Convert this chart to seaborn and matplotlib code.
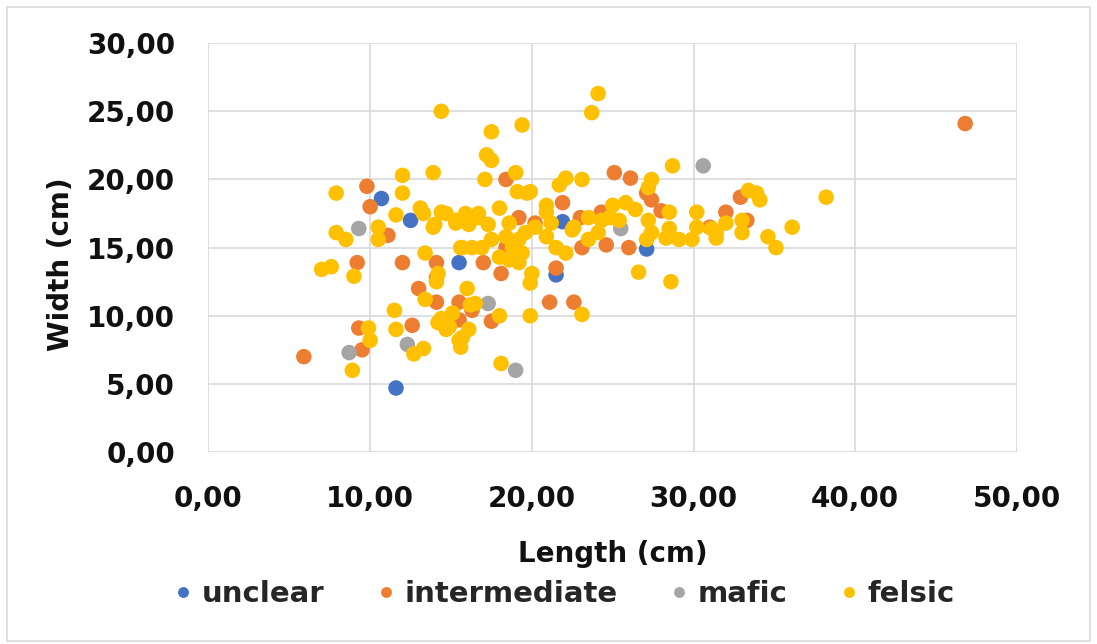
import matplotlib
matplotlib.use("Agg")
import matplotlib.pyplot as plt
import matplotlib.ticker as mticker
from matplotlib.patches import Rectangle
import pandas as pd
import seaborn as sns

# ── Data ─────────────────────────────────────────────────────────────────────
unclear_x = [10.7, 12.5, 15.5, 21.5, 11.6, 27.1, 21.9]
unclear_y = [18.6, 17.0, 13.9, 13.0, 4.7, 14.9, 16.9]

intermediate_x = [5.9, 9.8, 10.0, 11.1, 9.2, 12.0, 9.3, 9.5, 14.1, 17.0,
                  18.4, 18.1, 13.0, 14.1, 12.6, 14.1, 15.5, 16.3, 17.5, 21.5,
                  21.1, 22.6, 23.1, 24.6, 26.0, 25.1, 26.1, 27.1, 21.9, 23.0,
                  19.2, 32.0, 31.0, 28.0, 24.3, 32.9, 33.3, 27.4, 46.8, 18.4,
                  20.2, 15.5]
intermediate_y = [7.0, 19.5, 18.0, 15.9, 13.9, 13.9, 9.1, 7.5, 13.9, 13.9,
                  20.0, 13.1, 12.0, 12.8, 9.3, 11.0, 9.7, 10.4, 9.6, 13.5,
                  11.0, 11.0, 15.0, 15.2, 15.0, 20.5, 20.1, 19.0, 18.3, 17.2,
                  17.2, 17.6, 16.5, 17.7, 17.6, 18.7, 17.0, 18.5, 24.1, 15.0,
                  16.8, 11.0]

mafic_x = [9.3, 8.7, 17.3, 19.0, 12.3, 30.6, 25.5]
mafic_y = [16.4, 7.3, 10.9, 6.0, 7.9, 21.0, 16.4]

felsic_x = [14.4, 17.5, 19.4, 17.2, 17.5, 13.9, 12.0, 12.0, 17.1, 19.0,
            7.9, 11.6, 13.1, 13.3, 7.9, 8.5, 10.5, 10.5, 13.9, 14.7,
            15.3, 15.9, 16.7, 15.6, 7.0, 7.6, 9.0, 13.4, 14.2, 14.1,
            13.4, 11.5, 11.6, 9.9, 10.0, 12.7, 13.3, 8.9, 14.4, 14.9,
            15.5, 15.6, 16.0, 16.1, 18.0, 18.1, 19.9, 19.9, 15.1, 16.5,
            14.2, 14.7, 15.7, 16.2, 19.2, 26.6, 28.6, 23.1, 24.1, 23.7,
            28.7, 27.4, 27.2, 21.7, 22.1, 23.1, 19.7, 19.1, 19.9, 14.4,
            14.0, 15.3, 16.1, 16.7, 18.0, 17.3, 18.6, 18.4, 15.7, 16.3,
            16.9, 17.5, 18.8, 19.2, 19.6, 19.4, 18.0, 18.6, 20.9, 21.2,
            20.9, 21.5, 22.1, 22.5, 20.2, 20.0, 22.6, 25.0, 25.8, 26.4,
            25.4, 27.2, 28.5, 27.4, 28.5, 28.3, 29.1, 30.2, 30.2, 29.9,
            31.1, 31.4, 27.1, 24.3, 23.5, 38.2, 36.1, 34.6, 35.1, 33.9,
            33.4, 34.1, 33.0, 33.0, 32.0, 31.4, 24.8, 24.1, 23.5, 20.9]
felsic_y = [25.0, 23.5, 24.0, 21.8, 21.4, 20.5, 20.3, 19.0, 20.0, 20.5,
            19.0, 17.4, 17.9, 17.5, 16.1, 15.6, 16.5, 15.6, 16.5, 17.5,
            16.8, 17.5, 17.2, 15.0, 13.4, 13.6, 12.9, 14.6, 13.1, 12.5,
            11.2, 10.4, 9.0, 9.1, 8.2, 7.2, 7.6, 6.0, 9.8, 9.2,
            8.2, 7.7, 12.0, 9.0, 10.0, 6.5, 12.4, 10.0, 10.2, 10.9,
            9.5, 9.0, 8.4, 10.8, 13.9, 13.2, 12.5, 10.1, 26.3, 24.9,
            21.0, 20.0, 19.4, 19.6, 20.1, 20.0, 19.0, 19.1, 19.1, 17.6,
            16.7, 17.0, 16.7, 17.5, 17.9, 16.7, 16.8, 15.8, 15.0, 15.0,
            15.0, 15.6, 15.0, 15.6, 16.1, 14.6, 14.3, 14.1, 17.6, 16.8,
            15.8, 15.0, 14.6, 16.3, 16.5, 13.1, 16.5, 18.1, 18.3, 17.8,
            17.0, 17.0, 17.6, 16.1, 16.4, 15.7, 15.6, 17.6, 16.5, 15.6,
            16.4, 15.7, 15.6, 17.0, 17.2, 18.7, 16.5, 15.8, 15.0, 19.0,
            19.2, 18.5, 17.0, 16.1, 16.8, 16.1, 17.2, 16.1, 15.6, 18.1]

groups = ["unclear", "intermediate", "mafic", "felsic"]
colors = ["#4472C4", "#ED7D31", "#A5A5A5", "#FFC000"]

# ── Table ────────────────────────────────────────────────────────────────────
frames = []
for name, xs, ys in [("unclear", unclear_x, unclear_y),
                     ("intermediate", intermediate_x, intermediate_y),
                     ("mafic", mafic_x, mafic_y),
                     ("felsic", felsic_x, felsic_y)]:
    frames.append(pd.DataFrame({"Length": xs, "Width": ys, "type": name}))
df = pd.concat(frames, ignore_index=True)

# ── Plot ─────────────────────────────────────────────────────────────────────
sns.set_theme(style="white")
plt.rcParams["font.family"] = ["DejaVu Sans"]

fig = plt.figure(figsize=(10.97, 6.44), dpi=100)
ax = fig.add_axes([0.190, 0.298, 0.737, 0.635])

sns.scatterplot(data=df, x="Length", y="Width", hue="type",
                hue_order=groups, palette=dict(zip(groups, colors)),
                s=125, linewidth=0, alpha=1, ax=ax)

ax.set_xlim(0, 50)
ax.set_ylim(0, 30)
ax.xaxis.set_major_locator(mticker.MultipleLocator(10))
ax.yaxis.set_major_locator(mticker.MultipleLocator(5))
fmt = mticker.FuncFormatter(lambda v, _: f"{v:.2f}".replace(".", ","))
ax.xaxis.set_major_formatter(fmt)
ax.yaxis.set_major_formatter(fmt)
ax.tick_params(axis="both", length=0, labelsize=20, colors="#111111")
ax.tick_params(axis="x", pad=24)
ax.tick_params(axis="y", pad=24)
for lab in ax.get_xticklabels() + ax.get_yticklabels():
    lab.set_fontweight("bold")

ax.grid(True, color="#D9D9D9", linewidth=1.2)
ax.set_axisbelow(True)
for sp in ax.spines.values():
    sp.set_visible(False)

ax.set_xlabel("Length (cm)", fontsize=20, fontweight="bold", color="#111111")
ax.set_ylabel("Width (cm)", fontsize=20, fontweight="bold", color="#111111")
ax.xaxis.set_label_coords(0.5, -0.215)
ax.yaxis.set_label_coords(-0.165, 0.46)

handles, labels = ax.get_legend_handles_labels()
ax.legend_.remove()
fig.legend(handles, labels, loc="center", bbox_to_anchor=(0.512, 0.078),
           ncol=4, frameon=False, markerscale=0.7,
           handletextpad=0.15, columnspacing=1.6, handlelength=1.0,
           prop={"weight": "bold", "size": 21})

fig.patches.append(Rectangle((0.006, 0.005), 0.988, 0.984,
                             transform=fig.transFigure, fill=False,
                             edgecolor="#D9D9D9", linewidth=1.2))

fig.savefig("out.png", dpi=100)
